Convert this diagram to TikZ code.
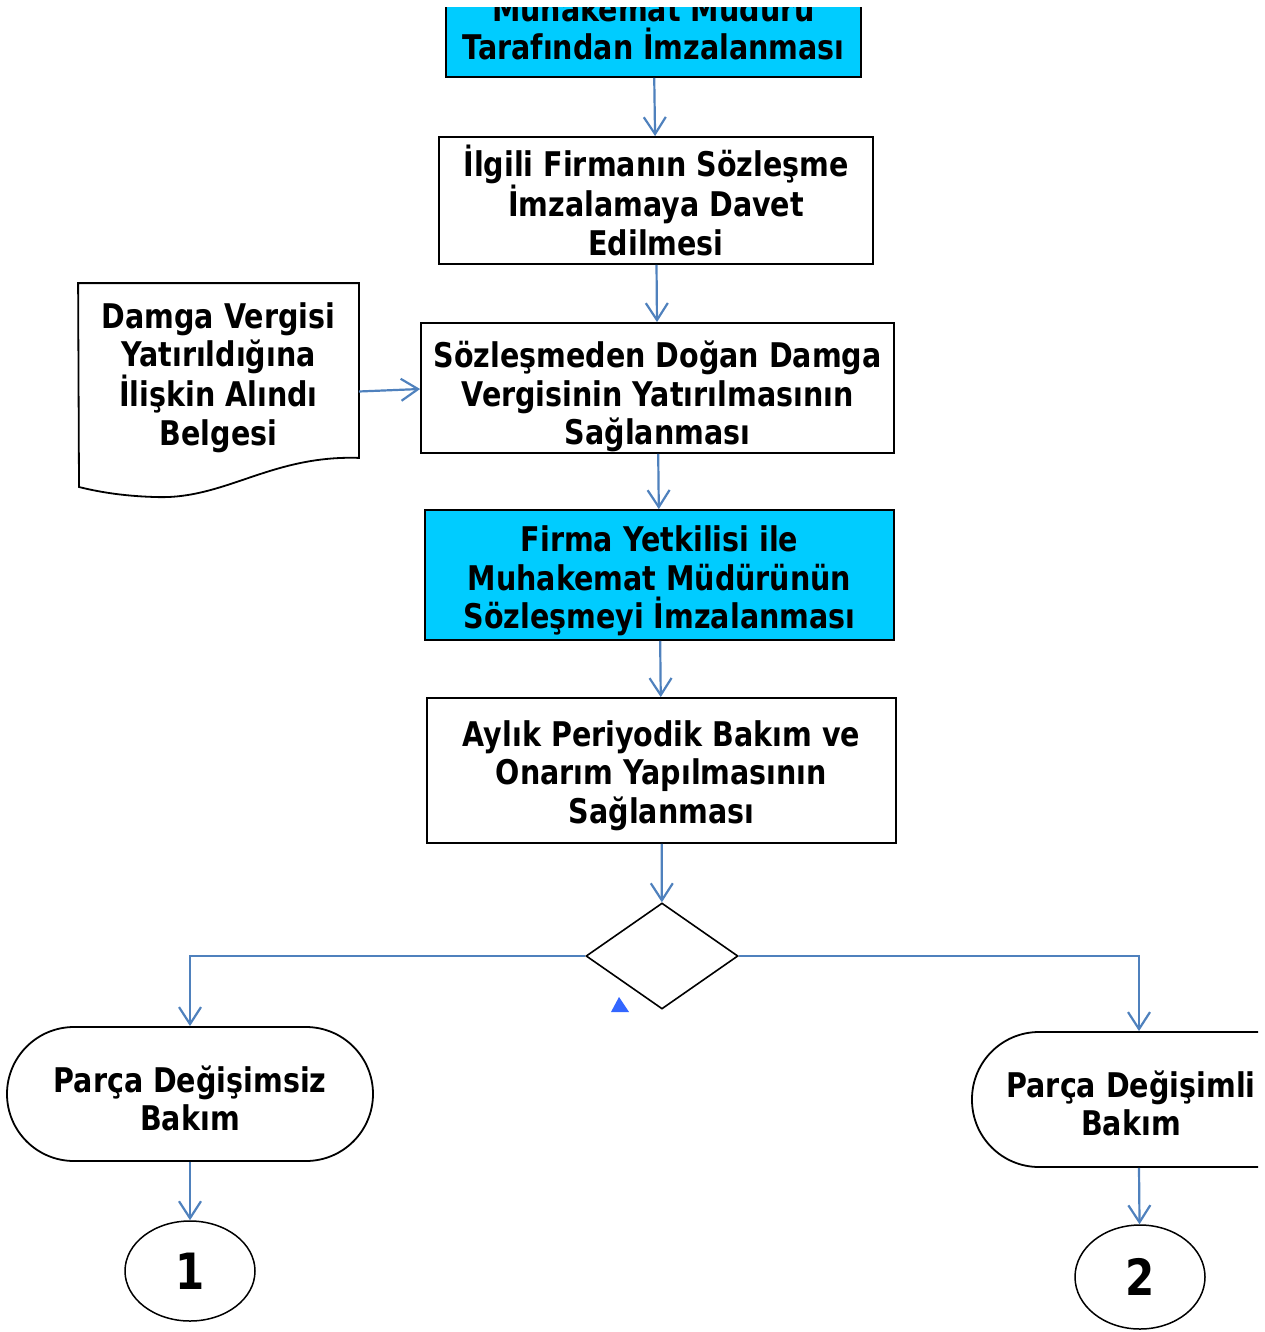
\documentclass[tikz,border=0pt]{standalone}
\usepackage{fontspec}
\newfontfamily\flowfont[FakeStretch=0.84]{DejaVu Sans}
\usepackage{xcolor}
\usetikzlibrary{arrows.meta,shapes.geometric}
\definecolor{linkblue}{HTML}{4F81BD}
\definecolor{signcyan}{HTML}{00CCFF}
\definecolor{markblue}{HTML}{3366FF}
\newcommand\dropstrut[1]{\rule{0pt}{#1}}
\newcommand\padright{\rule{40pt}{0pt}}

\begin{document}
\begin{tikzpicture}[x=1pt, y=-1pt,
proc/.style={draw, line width=1.8pt, align=center, inner sep=0pt, font=\flowfont\bfseries\fontsize{34pt}{38.5pt}\selectfont},
signed/.style={proc, fill=signcyan},
term/.style={proc, rounded corners=67pt},
conn/.style={draw, ellipse, line width=1.5pt, inner sep=0pt, font=\flowfont\bfseries\fontsize{50pt}{56pt}\selectfont},
decision/.style={draw, diamond, line width=1.6pt, inner sep=0pt},
arrow/.style={-{Straight Barb[length=17pt, width=22pt]}, draw=linkblue, line width=2.2pt}
]
\useasboundingbox (0,0) rectangle (1265,1332);
\begin{scope}
\clip (0,8) rectangle (1258,1332);
\node[signed, minimum width=415, minimum height=99] (top) at (653.5,27.5) {Muhakemat Müdürü\\Tarafından İmzalanması};
\node[proc, minimum width=434, minimum height=127] (invite) at (656,200.5) {İlgili Firmanın Sözleşme\\İmzalamaya Davet\\Edilmesi};
\node[proc, minimum width=473, minimum height=130] (stamp) at (657.5,388) {\dropstrut{44pt}Sözleşmeden Doğan Damga\\Vergisinin Yatırılmasının\\Sağlanması};
\node[proc, draw=none, minimum width=279, minimum height=173] (doc) at (218.5,370.5) {\dropstrut{40pt}Damga Vergisi\\Yatırıldığına\\İlişkin Alındı\\Belgesi};
\node[signed, minimum width=469, minimum height=130] (signing) at (659.5,575) {\dropstrut{38pt}Firma Yetkilisi ile\\Muhakemat Müdürünün\\Sözleşmeyi İmzalanması};
\node[proc, minimum width=469, minimum height=145] (monthly) at (661.5,770.5) {\dropstrut{36pt}Aylık Periyodik Bakım ve\\Onarım Yapılmasının\\Sağlanması};
\node[decision, minimum width=152, minimum height=106] (dec) at (662,956) {};
\node[term, minimum width=366, minimum height=134] (t1) at (190,1094) {\dropstrut{35.5pt}Parça Değişimsiz\\Bakım};
\node[term, minimum width=358, minimum height=135] (t2) at (1151,1099.5) {\dropstrut{34.5pt}Parça Değişimli\padright\\Bakım\padright};
\node[conn, minimum width=130, minimum height=100] (c1) at (190,1271) {1};
\node[conn, minimum width=130, minimum height=104] (c2) at (1140,1277) {2};

% document outline
\draw[line width=1.8pt] (doc.north west) -- (doc.north east) -- (doc.south east)
  .. controls (270,455) and (225,500) .. (155,497)
  .. controls (120,496) and (95,491) .. (79,487) -- cycle;

\draw[arrow] (top) -- (invite);
\draw[arrow] (invite) -- (stamp);
\draw[arrow] ([yshift=-21pt]doc.east) -- ([yshift=-1pt]stamp.west);
\draw[arrow] (stamp) -- (signing);
\draw[arrow] (signing) -- (monthly);
\draw[arrow] (monthly) -- (dec);
\draw[arrow] (dec.west) -| (t1.north);
\draw[arrow] (dec.east) -| ([xshift=-12pt]t2.north);
\draw[arrow] (t1) -- (c1);
\draw[arrow] ([xshift=-12pt]t2.south) -- (c2);

\fill[markblue] (611,1012) -- (629,1012) -- (619,997) -- cycle;
\end{scope}
\end{tikzpicture}
\end{document}
